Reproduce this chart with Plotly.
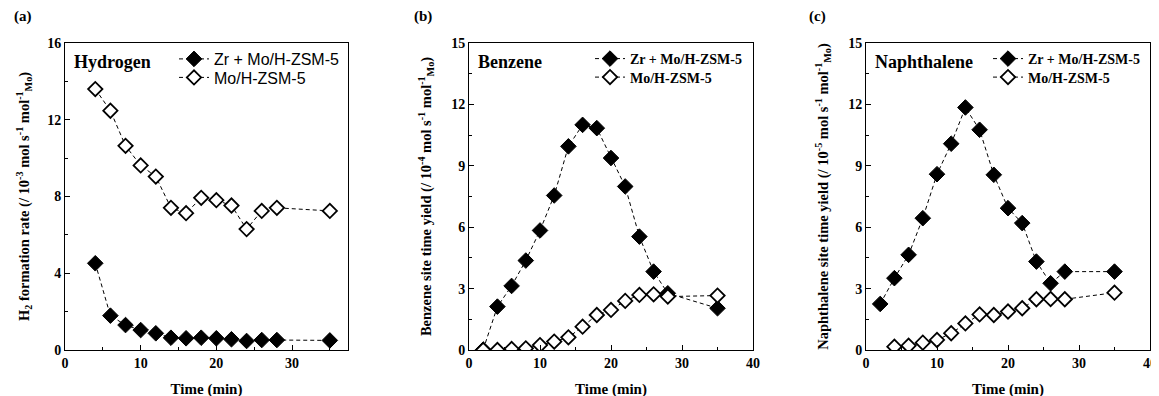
import plotly.graph_objects as go

W, H = 1159, 396
OFF = 8  # page body margin offset

# ---------------- data ----------------
time_h2 = [4, 6, 8, 10, 12, 14, 16, 18, 20, 22, 24, 26, 28, 35]
h2_zr = [4.52, 1.79, 1.30, 1.04, 0.87, 0.64, 0.61, 0.64, 0.61, 0.56, 0.47, 0.52, 0.52, 0.50]
h2_mo = [13.6, 12.47, 10.64, 9.62, 9.04, 7.41, 7.13, 7.93, 7.81, 7.53, 6.30, 7.25, 7.41, 7.25]

time_bz = [2, 4, 6, 8, 10, 12, 14, 16, 18, 20, 22, 24, 26, 28, 35]
bz_zr = [0.02, 2.12, 3.13, 4.37, 5.84, 7.55, 9.95, 11.0, 10.84, 9.38, 7.99, 5.54, 3.83, 2.77, 2.04]
bz_mo = [0.0, 0.0, 0.05, 0.08, 0.24, 0.41, 0.62, 1.14, 1.71, 1.96, 2.40, 2.69, 2.72, 2.61, 2.66]

time_np_zr = [2, 4, 6, 8, 10, 12, 14, 16, 18, 20, 22, 24, 26, 28, 35]
np_zr = [2.25, 3.51, 4.65, 6.44, 8.59, 10.08, 11.85, 10.76, 8.56, 6.93, 6.20, 4.32, 3.26, 3.83, 3.83]
time_np_mo = [4, 6, 8, 10, 12, 14, 16, 18, 20, 22, 24, 26, 28, 35]
np_mo = [0.16, 0.21, 0.36, 0.49, 0.82, 1.30, 1.74, 1.71, 1.88, 2.04, 2.48, 2.49, 2.48, 2.80]

series_names = ["Zr + Mo/H-ZSM-5", "Mo/H-ZSM-5"]
panel_labels = ["(a)", "(b)", "(c)"]
panel_titles = ["Hydrogen", "Benzene", "Naphthalene"]
x_title = "Time (min)"
y_titles = [
    "H<sub>2</sub> formation rate (/ 10<sup>-3</sup> mol s<sup>-1</sup> mol<sup>-1</sup><sub>Mo</sub>)",
    "Benzene site time yield (/ 10<sup>-4</sup> mol s<sup>-1</sup> mol<sup>-1</sup><sub>Mo</sub>)",
    "Naphthalene site time yield (/ 10<sup>-5</sup> mol s<sup>-1</sup> mol<sup>-1</sup><sub>Mo</sub>)",
]

# ---------------- layout helpers ----------------
SERIF = "Liberation Serif"
SANS = "Liberation Sans"

px_x = [(65, 348), (469, 753), (866, 1150)]
px_y = (43, 350)


def fx(p):
    return (p - OFF) / W


def fy(p):
    return 1 - (p - OFF) / H


fig = go.Figure()

panels = [
    (time_h2, h2_zr, time_h2, h2_mo),
    (time_bz, bz_zr, time_bz, bz_mo),
    (time_np_zr, np_zr, time_np_mo, np_mo),
]

for i, (xz, yz, xm, ym) in enumerate(panels):
    xa = "x" if i == 0 else f"x{i+1}"
    ya = "y" if i == 0 else f"y{i+1}"
    nz = series_names[0] if i == 0 else "<b>" + series_names[0] + "</b>"
    nm = series_names[1] if i == 0 else "<b>" + series_names[1] + "</b>"
    lg1 = "legend" if i == 0 else f"legend{2 * i + 1}"
    lg2 = f"legend{2 * i + 2}"
    fig.add_trace(go.Scatter(
        x=xz, y=yz, mode="lines+markers", name=nz,
        xaxis=xa, yaxis=ya, legend=lg1,
        line=dict(color="black", width=1, dash="4px,3px"),
        marker=dict(symbol="diamond", size=12, color="black",
                    line=dict(color="black", width=1)),
    ))
    fig.add_trace(go.Scatter(
        x=xm, y=ym, mode="lines+markers", name=nm,
        xaxis=xa, yaxis=ya, legend=lg2,
        line=dict(color="black", width=1, dash="4px,3px"),
        marker=dict(symbol="diamond", size=11, color="white",
                    line=dict(color="black", width=1.8)),
    ))

tickfont = dict(family=SERIF, size=14, color="black", weight="bold")
titlefont = dict(family=SERIF, size=15, color="black", weight="bold")

x_ranges = [[0, 37.4], [0, 40], [0, 40]]
y_ranges = [[0, 16], [0, 15], [0, 15]]
y_dticks = [4, 3, 3]

layout = dict(
    width=W, height=H,
    margin=dict(l=0, r=0, t=0, b=0, autoexpand=False),
    paper_bgcolor="white", plot_bgcolor="white",
    showlegend=True,
)

for i in range(3):
    xk = "xaxis" if i == 0 else f"xaxis{i+1}"
    yk = "yaxis" if i == 0 else f"yaxis{i+1}"
    xa = "x" if i == 0 else f"x{i+1}"
    ya = "y" if i == 0 else f"y{i+1}"
    layout[xk] = dict(
        domain=[fx(px_x[i][0]), fx(px_x[i][1])], anchor=ya,
        range=x_ranges[i], dtick=10, tick0=0, automargin=False,
        showline=True, linecolor="black", linewidth=1, mirror=True,
        ticks="inside", ticklen=5, tickcolor="black",
        minor=dict(ticks="inside", ticklen=3, dtick=5, tickcolor="black", showgrid=False),
        showgrid=False, zeroline=False,
        tickfont=tickfont,
        title=dict(text=x_title, font=titlefont, standoff=13),
    )
    layout[yk] = dict(
        domain=[fy(px_y[1]), fy(px_y[0])], anchor=xa,
        range=y_ranges[i], dtick=y_dticks[i], tick0=0, automargin=False,
        showline=True, linecolor="black", linewidth=1, mirror=True,
        ticks="inside", ticklen=5, tickcolor="black",
        minor=dict(ticks="inside", ticklen=3, dtick=y_dticks[i] / 2, tickcolor="black", showgrid=False),
        showgrid=False, zeroline=False,
        tickfont=tickfont,
        title=dict(text="<b>" + y_titles[i] + "</b>", font=dict(family=SERIF, size=14.5, color="black"),
                   standoff=14 if i == 0 else 16),
    )

legend_fonts = [dict(family=SANS, size=16, color="black"),
                dict(family=SERIF, size=14, color="black"),
                dict(family=SERIF, size=14, color="black")]
legend_left = [174, 590, 988]
row_y = [59, 77.5]
for i in range(3):
    for j in range(2):
        name = "legend" if (i == 0 and j == 0) else f"legend{2 * i + j + 1}"
        layout[name] = dict(
            x=fx(legend_left[i]), y=fy(row_y[j]), xanchor="left", yanchor="middle",
            bgcolor="rgba(0,0,0,0)", borderwidth=0,
            font=legend_fonts[i], tracegroupgap=0, itemwidth=30,
        )

annotations = []
label_pos = [23, 423, 817]
for i in range(3):
    annotations.append(dict(
        text="<b>" + panel_labels[i] + "</b>", xref="paper", yref="paper",
        x=fx(label_pos[i]), y=fy(17), xanchor="center", yanchor="middle",
        showarrow=False, font=dict(family=SERIF, size=15, color="black"),
    ))
    annotations.append(dict(
        text="<b>" + panel_titles[i] + "</b>", xref="paper", yref="paper",
        x=fx(px_x[i][0] + 7), y=fy(62), xanchor="left", yanchor="middle",
        showarrow=False, font=dict(family=SERIF, size=18, color="black"),
    ))
layout["annotations"] = annotations

fig.update_layout(**layout)
fig.write_html("out.html")
